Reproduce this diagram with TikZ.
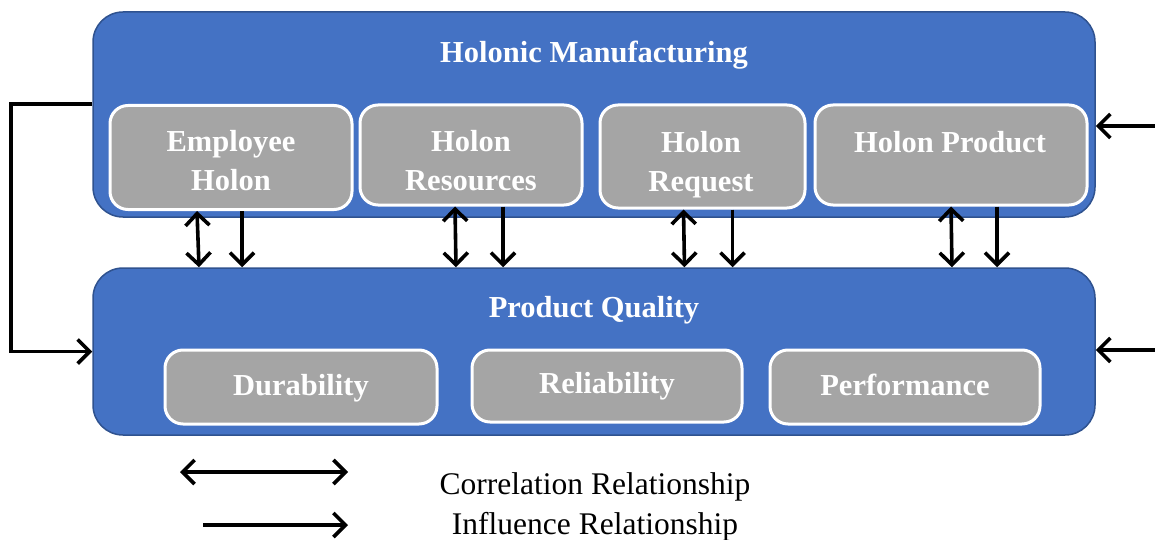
\documentclass[tikz,border=0pt]{standalone}
\usepackage{fontspec}
\setmainfont{Liberation Serif}
\usetikzlibrary{arrows.meta}
\definecolor{hblue}{HTML}{4472C4}
\definecolor{hblueedge}{HTML}{2F528F}
\definecolor{hgray}{HTML}{A5A5A5}
\begin{document}
\begin{tikzpicture}[x=1pt,y=-1pt,
  outerbox/.style={draw=hblueedge, line width=1.5pt, fill=hblue, rounded corners=30pt, inner sep=0pt},
  innerbox/.style={draw=white, line width=3pt, fill=hgray, rounded corners=18pt, inner sep=0pt},
  boldtxt/.style={text=white, font=\fontsize{30.5}{39}\selectfont\bfseries, align=center},
  legtxt/.style={text=black, font=\fontsize{31.5}{36}\selectfont},
  conn/.style={line width=3.6pt},
  barb/.tip={Straight Barb[length=12pt,width=24pt,line width=3.6pt]},
  infl/.style={conn, -barb},
  corr/.style={conn, barb-barb}
]
\useasboundingbox (0,0) rectangle (1155,540);

% Outer containers
\node[outerbox, minimum width=1002pt, minimum height=205pt] (hm) at (594,114.5) {};
\node[outerbox, minimum width=1002pt, minimum height=167pt] (pq) at (594,351.5) {};

% Container titles
\node[boldtxt] (hmt) at (594,55) {Holonic Manufacturing};
\node[boldtxt] (pqt) at (594,310) {Product Quality};

% Holon boxes
\node[innerbox, minimum width=242pt, minimum height=104pt] (emp) at (231,157.5) {};
\node[boldtxt] (empt) at (231,161) {Employee\\Holon};
\node[innerbox, minimum width=222pt, minimum height=100pt] (res) at (471,155) {};
\node[boldtxt] (rest) at (471,161) {Holon\\Resources};
\node[innerbox, minimum width=205pt, minimum height=103pt] (req) at (702.5,156.5) {};
\node[boldtxt] (reqt) at (701,164.5) {Holon\\Request};
\node[innerbox, minimum width=272pt, minimum height=100pt] (prod) at (951,155) {};
\node[boldtxt] (prodt) at (950,142) {Holon Product};

% Quality boxes
\node[innerbox, minimum width=272pt, minimum height=74pt] (dur) at (301,387) {};
\node[boldtxt] (durt) at (301,388.5) {Durability};
\node[innerbox, minimum width=270pt, minimum height=72pt] (rel) at (607,386) {};
\node[boldtxt] (relt) at (607,386.5) {Reliability};
\node[innerbox, minimum width=270pt, minimum height=74pt] (perf) at (905,387) {};
\node[boldtxt] (perft) at (905,384.5) {Performance};

% Links between holons and product quality
\draw[corr] ([xshift=-34pt]emp.south) -- ([xshift=-32pt]emp.south |- pq.north);
\draw[infl] ([xshift=11pt]emp.south) -- ([xshift=11pt]emp.south |- pq.north);
\draw[corr] ([xshift=-16pt]res.south) -- ([xshift=-15pt]res.south |- pq.north);
\draw[infl] ([xshift=32pt]res.south) -- ([xshift=32pt]res.south |- pq.north);
\draw[corr] ([xshift=-19pt]req.south) -- ([xshift=-18pt]req.south |- pq.north);
\draw[infl] ([xshift=30pt]req.south) -- ([xshift=30pt]req.south |- pq.north);
\draw[corr] ([xshift=0pt]prod.south) -- ([xshift=1pt]prod.south |- pq.north);
\draw[infl] ([xshift=46pt]prod.south) -- ([xshift=46pt]prod.south |- pq.north);

% Feedback loop on the left
\draw[infl] ([yshift=10.5pt]hm.west) -- ++(-81,0) |- (pq.west);

% External inputs on the right
\coordinate (rin1) at (1160,126);
\coordinate (rin2) at (1160,350);
\draw[infl] (rin1) -- (rin1 -| hm.east);
\draw[infl] (rin2) -- (rin2 -| pq.east);

% Legend
\coordinate (lc1) at (180,472);
\coordinate (lc2) at (348,472);
\coordinate (li1) at (203,525);
\coordinate (li2) at (348,525);
\draw[corr] (lc1) -- (lc2);
\draw[infl] (li1) -- (li2);
\node[legtxt] (lct) at (595,487) {Correlation Relationship};
\node[legtxt] (lit) at (595,527) {Influence Relationship};
\end{tikzpicture}
\end{document}
